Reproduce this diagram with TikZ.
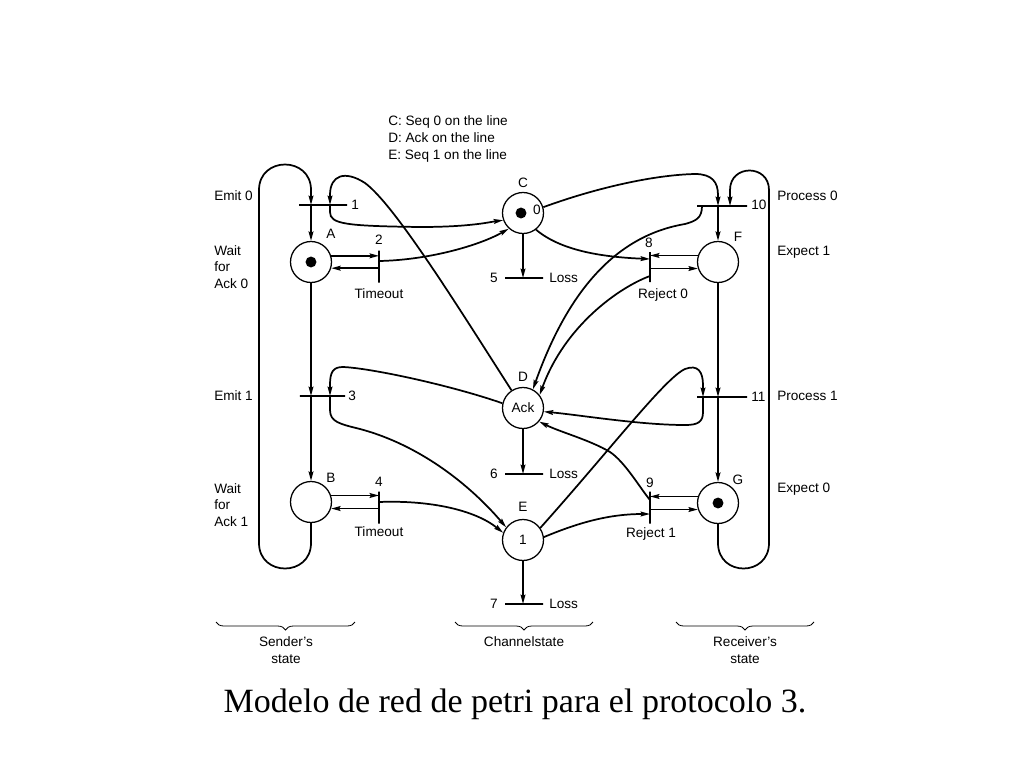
\documentclass[tikz,border=0pt]{standalone}
\usepackage{fontspec}
\setmainfont{Liberation Sans}
\newfontfamily\capfont{Liberation Serif}
\usetikzlibrary{arrows.meta,decorations.pathreplacing}
\newcommand{\lblfont}{\fontsize{10.2pt}{12.4pt}\selectfont}
\tikzset{
  place/.style={circle, draw, line width=0.95pt, minimum size=30.75pt, inner sep=0pt, font=\lblfont},
  hbar/.style={draw, rectangle, line width=0.85pt, inner sep=0pt, minimum height=0pt, minimum width=36pt},
  vbar/.style={draw, rectangle, line width=0.85pt, inner sep=0pt, minimum width=0pt, minimum height=24pt},
  conn/.style={line width=1.3pt, -{Stealth[length=7pt,width=3.6pt,inset=1pt]}},
  token/.style={circle, fill=black, inner sep=0pt, minimum size=8.2pt},
  lbl/.style={font=\lblfont, inner sep=0pt, text height=7.3pt, text depth=0pt},
  mlbl/.style={font=\lblfont, inner sep=0pt, align=left},
  clbl/.style={font=\lblfont, inner sep=0pt, align=center},
  bracestyle/.style={line width=0.6pt, decorate, decoration={brace, mirror, amplitude=6pt}},
}
\begin{document}
\begin{tikzpicture}[x=0.75pt, y=-0.75pt]
\useasboundingbox (0,0) rectangle (1024,768);

% places
\node[place] (A) at (311,262) {};
\node[place] (B) at (311,502) {};
\node[place] (C) at (523,213) {};
\node[place] (D) at (523,408) {Ack};
\node[place] (E) at (523,540) {1};
\node[place] (F) at (718,262) {};
\node[place] (G) at (718,503) {};
\node[token] (tokA) at (311,262) {};
\node[token] (tokC) at (521,213) {};
\node[token] (tokG) at (718,503) {};
\node[lbl] (zeroC) at (537,210) {0};

% transitions
\node[hbar] (t1) at (323,205) {};
\node[hbar, minimum width=34pt] (t3) at (322.5,396) {};
\node[hbar, minimum width=37.5pt] (t10) at (722,206) {};
\node[hbar, minimum width=37.5pt] (t11) at (722,397) {};
\node[hbar, minimum width=28.5pt] (t5) at (524,278) {};
\node[hbar, minimum width=28.5pt] (t6) at (524,474) {};
\node[hbar, minimum width=28.5pt] (t7) at (524,604) {};
\node[vbar] (t2) at (379,266.5) {};
\node[vbar] (t4) at (379,507.5) {};
\node[vbar, minimum height=22.5pt] (t8) at (650,267) {};
\node[vbar] (t9) at (650,507.5) {};

\coordinate (t1r) at (330,205);
\coordinate (t3r) at (330,396);
\coordinate (t10l) at (702,206);
\coordinate (t10r) at (730,206);
\coordinate (t11l) at (703,397);
\coordinate (t2c) at (379,261);
\coordinate (t4c) at (379,502);
\coordinate (t8a) at (650,259);
\coordinate (t8b) at (650,276);
\coordinate (t9c) at (650,500);
\coordinate (t9e) at (650,514);

% sender column
\draw[conn] (B) -- (311,543) .. controls (311,577) and (259,577) .. (259,543) -- (259,190) .. controls (259,156) and (311,156) .. (311,190) -- (A |- t1);
\draw[conn] (A |- t1) -- (A);
\draw[conn] (A) -- (A |- t3);
\draw[conn] (A |- t3) -- (B);
\draw[conn] (A.17) -- (A.17 -| t2);
\draw[conn] (A.-17 -| t2) -- (A.-17);
\draw[conn] (B.18) -- (B.18 -| t4);
\draw[conn] (B.-18 -| t4) -- (B.-18);

% receiver column
\draw[conn] (G) -- (718,543) .. controls (718,577) and (769,577) .. (769,543) -- (769,190) .. controls (769,164) and (730,164) .. (730,190) -- (t10r);
\draw[conn] (F |- t10) -- (F);
\draw[conn] (F) -- (F |- t11);
\draw[conn] (F |- t11) -- (G);
\draw[conn] (F.162) -- (F.162 -| t8);
\draw[conn] (F.198 -| t8) -- (F.198);
\draw[conn] (G.162) -- (G.162 -| t9);
\draw[conn] (G.198 -| t9) -- (G.198);

% channel losses
\draw[conn] (C) -- (C |- t5);
\draw[conn] (D) -- (D |- t6);
\draw[conn] (E) -- (E |- t7);

% sender <-> channel
\draw[conn] (D.123) .. controls (460,310) and (395,205) .. (365,183) .. controls (345,170) and (330,175) .. (330,195) -- (t1r);
\draw[conn] (t1r) -- (330,212) .. controls (330,224) and (345,226) .. (420,227) .. controls (470,227) and (490,222) .. (C.200);
\draw[conn] (t2c) .. controls (430,260) and (480,245) .. (C.228);
\draw[conn] (D.167) .. controls (450,385) and (370,368) .. (343,367) .. controls (333,367) and (330,372) .. (330,385) -- (t3r);
\draw[conn] (t3r) -- (330,410) .. controls (330,422) and (340,424) .. (360,429) .. controls (420,445) and (470,485) .. (E.143);
\draw[conn] (t4c) .. controls (430,500) and (475,510) .. (E.160);

% channel <-> receiver
\draw[conn] (C.16) .. controls (590,190) and (650,175) .. (695,174) .. controls (712,174) and (718,182) .. (718,195) -- (F |- t10);
\draw[conn] (t10l) .. controls (702,218) and (696,221) .. (685,224) .. controls (620,235) and (570,285) .. (D.62);
\draw[conn] (C.-52) .. controls (560,250) and (600,257) .. (t8a);
\draw[conn] (t8b) .. controls (620,287) and (565,325) .. (D.38);
\draw[conn] (E.35) .. controls (610,450) and (665,378) .. (685,369) .. controls (698,364) and (703,372) .. (703,385) -- (t11l);
\draw[conn] (t11l) -- (703,412) .. controls (703,422) and (698,425) .. (685,425) .. controls (640,425) and (580,415) .. (D.-10);
\draw[conn] (E.8) .. controls (580,522) and (610,514) .. (t9e);
\draw[conn] (t9c) .. controls (640,488) and (625,462) .. (610,452) .. controls (590,440) and (560,432) .. (D.-40);

% transition labels
\node[lbl, anchor=west] (l1) at (351,205) {1};
\node[lbl] (l2) at (379,240) {2};
\node[lbl] (lto1) at (379,294) {Timeout};
\node[lbl, anchor=west] (l3) at (348,396) {3};
\node[lbl] (l4) at (379,482) {4};
\node[lbl] (lto2) at (379,532) {Timeout};
\node[lbl, anchor=east] (l5) at (498,278) {5};
\node[lbl, anchor=west] (loss5) at (549,278) {Loss};
\node[lbl, anchor=east] (l6) at (498,474) {6};
\node[lbl, anchor=west] (loss6) at (549,474) {Loss};
\node[lbl, anchor=east] (l7) at (498,604) {7};
\node[lbl, anchor=west] (loss7) at (549,604) {Loss};
\node[lbl] (l8) at (649,243) {8};
\node[lbl] (lrej0) at (663,294) {Reject 0};
\node[lbl] (l9) at (650,483) {9};
\node[lbl] (lrej1) at (651,533) {Reject 1};
\node[lbl, anchor=west] (l10) at (751,205) {10};
\node[lbl, anchor=west] (l11) at (751,397) {11};

% place labels
\node[lbl] (lA) at (331,234) {A};
\node[lbl] (lB) at (331,478) {B};
\node[lbl] (lC) at (523,183) {C};
\node[lbl] (lD) at (523,377) {D};
\node[lbl] (lE) at (523,507) {E};
\node[lbl] (lF) at (738,237) {F};
\node[lbl] (lG) at (738,480) {G};

% state labels
\node[lbl, anchor=west] (emit0) at (214,196) {Emit 0};
\node[mlbl, anchor=west] (wait0) at (214,267) {Wait\\for\\Ack 0};
\node[lbl, anchor=west] (emit1) at (214,396) {Emit 1};
\node[mlbl, anchor=west] (wait1) at (214,505) {Wait\\for\\Ack 1};
\node[lbl, anchor=west] (proc0) at (777,196) {Process 0};
\node[lbl, anchor=west] (exp1) at (777,251) {Expect 1};
\node[lbl, anchor=west] (proc1) at (777,396) {Process 1};
\node[lbl, anchor=west] (exp0) at (777,488) {Expect 0};

% legend
\node[mlbl, anchor=west] (legend) at (388,139) {C: Seq 0 on the line\\D: Ack on the line\\E: Seq 1 on the line};

% braces
\draw[bracestyle] (216,622) -- (355,622);
\draw[bracestyle] (455,622) -- (593,622);
\draw[bracestyle] (676,622) -- (814,622);
\node[clbl] (sst) at (286,650) {Sender's\\state};
\node[lbl] (cst) at (524,642) {Channelstate};
\node[clbl] (rst) at (745,650) {Receiver's\\state};

% caption
\node[font=\capfont\fontsize{25.5pt}{30pt}\selectfont, inner sep=0pt, anchor=base] (caption) at (515,712) {Modelo de red de petri para el protocolo 3.};
\end{tikzpicture}
\end{document}
